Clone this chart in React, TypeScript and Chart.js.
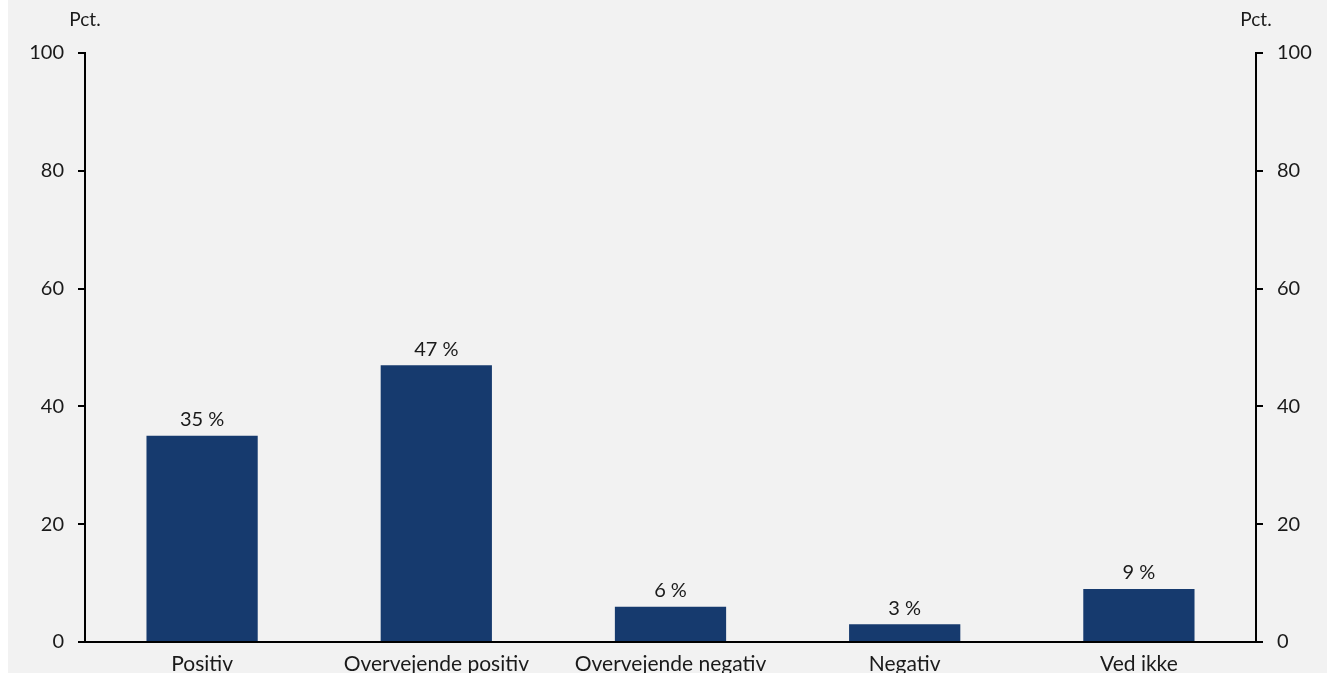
import React, { useEffect, useRef } from "react";
import { Chart, registerables } from "chart.js";

Chart.register(...registerables);

const categories = ["Positiv", "Overvejende positiv", "Overvejende negativ", "Negativ", "Ved ikke"];
const values = [35, 47, 6, 3, 9];
const valueLabels = ["35 %", "47 %", "6 %", "3 %", "9 %"];
const axisTitle = "Pct.";

const FONT = "Lato, 'Open Sans', sans-serif";
const BAR = "#163a6e";
const H = 673;

export default function App() {
  const ref = useRef<HTMLCanvasElement>(null);
  useEffect(() => {
    if (!ref.current) return;
    const labelsPlugin = {
      id: "labelsPlugin",
      afterDatasetsDraw(chart: any) {
        const ctx = chart.ctx;
        ctx.save();
        ctx.font = `20px ${FONT}`;
        ctx.fillStyle = "#1a1a1a";
        ctx.textAlign = "center";
        ctx.textBaseline = "bottom";
        const meta = chart.getDatasetMeta(0);
        meta.data.forEach((bar: any, i: number) => {
          ctx.fillText(valueLabels[i], bar.x, bar.y - 6);
        });
        ctx.textBaseline = "middle";
        ctx.font = `19px ${FONT}`;
        const yl = chart.scales.y;
        const yr = chart.scales.y2;
        ctx.fillText(axisTitle, yl.right, 20);
        ctx.fillText(axisTitle, yr.left, 20);
        ctx.restore();
      },
    };
    const chart = new Chart(ref.current, {
      type: "bar",
      data: {
        labels: categories,
        datasets: [
          {
            data: values,
            backgroundColor: BAR,
            barPercentage: 0.475,
            categoryPercentage: 1,
            yAxisID: "y",
          },
        ],
      },
      plugins: [labelsPlugin],
      options: {
        animation: false,
        responsive: true,
        maintainAspectRatio: false,
        layout: { padding: { top: 53, left: 0, right: 0, bottom: 0 } },
        plugins: { legend: { display: false }, tooltip: { enabled: false } },
        scales: {
          x: {
            grid: { display: false, drawTicks: false },
            border: { display: true, color: "#000", width: 2 },
            ticks: { color: "#1a1a1a", font: { family: FONT, size: 21 }, padding: 10, maxRotation: 0 },
            afterFit(scale: any) {
              scale.height = H - 642;
            },
          },
          y: {
            position: "left",
            min: 0,
            max: 100,
            ticks: { stepSize: 20, color: "#1a1a1a", font: { family: FONT, size: 20 }, padding: 14 },
            grid: { drawOnChartArea: false, drawTicks: true, tickLength: 7, color: "#000", lineWidth: 2 },
            border: { display: true, color: "#000", width: 2 },
            afterFit(scale: any) {
              scale.width = 77;
            },
          },
          y2: {
            position: "right",
            min: 0,
            max: 100,
            ticks: { stepSize: 20, color: "#1a1a1a", font: { family: FONT, size: 20 }, padding: 14 },
            grid: { drawOnChartArea: false, drawTicks: true, tickLength: 7, color: "#000", lineWidth: 2 },
            border: { display: true, color: "#000", width: 2 },
            afterFit(scale: any) {
              scale.width = 71;
            },
          },
        },
      },
    });
    return () => chart.destroy();
  }, []);
  return (
    <div
      style={{
        position: "fixed",
        left: 8,
        top: 0,
        right: 0,
        bottom: 0,
        background: "#f2f2f2",
        overflow: "hidden",
      }}
    >
      <div style={{ position: "relative", width: "100%", height: H }}>
        <canvas ref={ref} />
      </div>
    </div>
  );
}
